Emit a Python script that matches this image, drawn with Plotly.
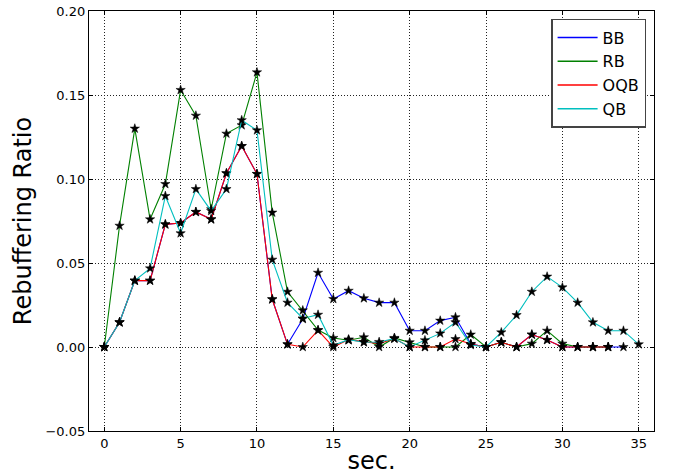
import plotly.graph_objects as go

secs_bb = list(range(0, 35))
secs_rb = list(range(0, 34))
secs_oqb = list(range(0, 34))
secs_qb = list(range(0, 36))

bb = [0.0, 0.0147, 0.0395, 0.0395, 0.073, 0.0738, 0.0804, 0.076, 0.1034, 0.1196,
      0.103, 0.0284, 0.0016, 0.0167, 0.0442, 0.0286, 0.0335, 0.029, 0.0264, 0.0264,
      0.0097, 0.0097, 0.0157, 0.0177, 0.0018, 0.0, 0.0028, 0.0, 0.0074, 0.0042,
      0.0, 0.0, 0.0, 0.0, 0.0]
rb = [0.0, 0.0722, 0.130, 0.076, 0.097, 0.153, 0.1377, 0.082, 0.127, 0.132,
      0.1635, 0.080, 0.0329, 0.0218, 0.0101, 0.0054, 0.004, 0.0058, 0.0, 0.0054,
      0.0028, 0.0, 0.0, 0.0, 0.0074, 0.0, 0.0028, 0.0, 0.002, 0.0097,
      0.002, 0.0, 0.0, 0.0]
oqb = [0.0, 0.0147, 0.0395, 0.0395, 0.073, 0.0738, 0.0804, 0.076, 0.1034, 0.1196,
       0.103, 0.0284, 0.0016, 0.0, 0.0099, 0.0, 0.0044, 0.003, 0.002, 0.005,
       0.0, 0.0, 0.0, 0.0047, 0.0018, 0.0, 0.0028, 0.0, 0.0074, 0.0042,
       0.0, 0.0, 0.0, 0.0]
qb = [0.0, 0.0147, 0.0395, 0.0468, 0.0899, 0.0677, 0.094, 0.081, 0.094, 0.135,
      0.129, 0.052, 0.0264, 0.017, 0.0192, 0.001, 0.0044, 0.0028, 0.003, 0.005,
      0.0, 0.004, 0.0081, 0.0147, 0.0012, 0.0, 0.0087, 0.019, 0.0329, 0.0419,
      0.0355, 0.0264, 0.0147, 0.0097, 0.0097, 0.0016]

series = [
    ("BB", secs_bb, bb, "#0000ff"),
    ("RB", secs_rb, rb, "#008000"),
    ("OQB", secs_oqb, oqb, "#ff0000"),
    ("QB", secs_qb, qb, "#00bfbf"),
]

x_ticks = [0, 5, 10, 15, 20, 25, 30, 35]
y_ticks = [-0.05, 0.0, 0.05, 0.10, 0.15, 0.20]

fig = go.Figure()
for name, xs, ys, color in series:
    fig.add_trace(go.Scatter(
        x=xs, y=ys, mode="lines+markers", name=name, showlegend=False,
        line=dict(color=color, width=1.1),
        marker=dict(symbol="star", size=7, color="black",
                    line=dict(color="black", width=0.5)),
    ))
for name, xs, ys, color in series:
    fig.add_trace(go.Scatter(
        x=[None], y=[None], mode="lines", name=name, showlegend=True,
        line=dict(color=color, width=1.5),
    ))

font = "DejaVu Sans, sans-serif"
axis_common = dict(
    showline=True, linecolor="black", linewidth=1.2, mirror="ticks",
    ticks="inside", ticklen=4, tickcolor="black", tickwidth=1,
    showgrid=True, gridcolor="#222222", griddash="1px,2px", gridwidth=1,
    zeroline=False, automargin=False,
    tickfont=dict(family=font, size=13, color="black"),
)

fig.update_layout(
    width=673, height=476,
    margin=dict(l=89, r=19, t=11, b=45),
    paper_bgcolor="white", plot_bgcolor="white",
    font=dict(family=font, color="black"),
    xaxis=dict(range=[-1, 36], tickvals=x_ticks,
               title=dict(text="sec.", font=dict(family=font, size=24), standoff=2),
               **axis_common),
    yaxis=dict(range=[-0.05, 0.20], tickvals=y_ticks, tickformat=".2f",
               title=dict(text="Rebuffering Ratio", font=dict(family=font, size=24), standoff=7),
               **axis_common),
    legend=dict(x=0.986, y=0.981, xanchor="right", yanchor="top",
                bgcolor="white", bordercolor="#444444", borderwidth=1.5,
                font=dict(family=font, size=16), itemwidth=40),
)

fig.write_html("out.html")
